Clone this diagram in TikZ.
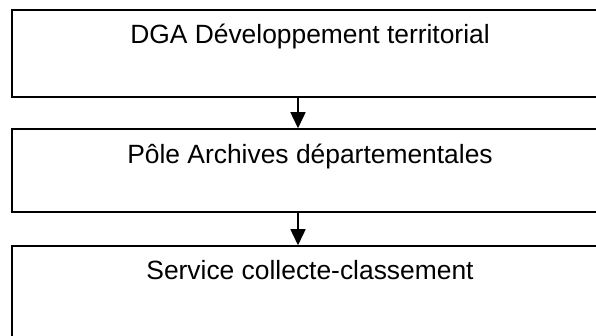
\documentclass[tikz,border=0pt]{standalone}
\usepackage{fontspec}
\setmainfont{Liberation Sans}
\usetikzlibrary{arrows.meta,calc}
\tikzset{
  box/.style={draw=black, line width=1.5pt, minimum width=596pt, inner sep=0pt},
  caption/.style={anchor=base, inner sep=0pt, font=\fontsize{26.4}{31}\selectfont},
  link/.style={draw=black, line width=1.5pt, -{Triangle[width=15pt,length=16pt]}}
}
\begin{document}
\begin{tikzpicture}[x=1pt, y=-1pt]
  \useasboundingbox (0,0) rectangle (596,336);
  \clip (0,0) rectangle (596,336);
  % three stacked boxes
  \node[box, minimum height=87pt] (b1) at (310,53.5) {};
  \node[box, minimum height=83pt] (b2) at (310,170.5) {};
  \node[box, minimum height=96pt] (b3) at (310,294) {};
  % captions, set a fixed distance below each box top
  \node[caption] (t1) at ($(b1.north)+(0,34)$) {DGA Développement territorial};
  \node[caption] (t2) at ($(b2.north)+(0,35)$) {Pôle Archives départementales};
  \node[caption] (t3) at ($(b3.north)+(0,34)$) {Service collecte-classement};
  % connectors
  \coordinate (ax) at (298,0);
  \draw[link] (b1.south -| ax) -- (b2.north -| ax);
  \draw[link] (b2.south -| ax) -- (b3.north -| ax);
\end{tikzpicture}
\end{document}
